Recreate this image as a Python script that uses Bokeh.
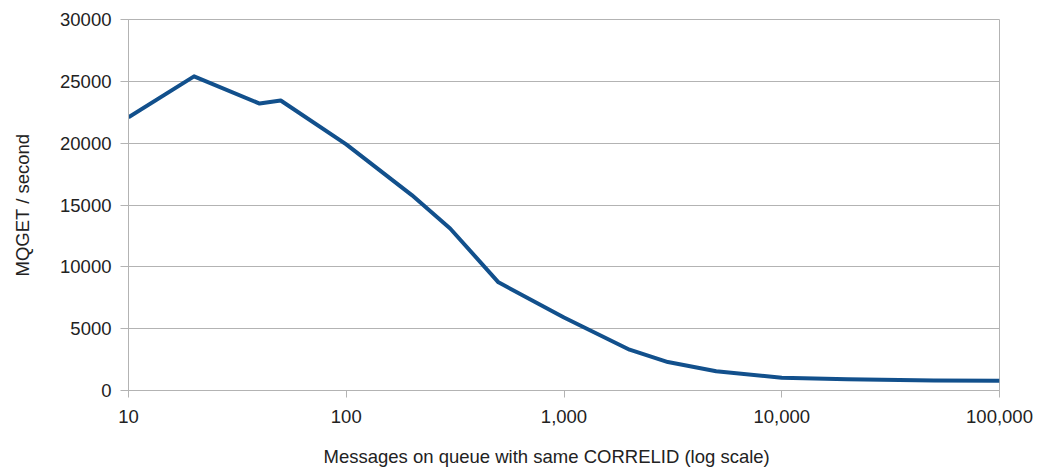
from bokeh.plotting import figure
from bokeh.models import Range1d, FixedTicker, NumeralTickFormatter, Title
from bokeh.embed import file_html
from bokeh.resources import INLINE

# Data
messages = [10, 20, 40, 50, 100, 200, 300, 500, 1000, 2000, 3000, 5000, 10000, 20000, 50000, 100000]
mqget_per_sec = [22100, 25400, 23200, 23450, 19900, 15800, 13100, 8750, 5900, 3300, 2300, 1550, 1030, 900, 800, 780]

x_ticks = [10, 100, 1000, 10000, 100000]
y_ticks = [0, 5000, 10000, 15000, 20000, 25000, 30000]

x_title = "Messages on queue with same CORRELID (log scale)"
y_title = "MQGET / second"

FONT = "Liberation Sans"
TEXT = "#222222"
GRID = "#b3b3b3"

p = figure(width=1040, height=469, x_axis_type="log",
           x_range=Range1d(10, 100000), y_range=Range1d(0, 30000),
           output_backend="svg", toolbar_location=None,
           min_border_left=128, min_border_right=41,
           min_border_top=19, min_border_bottom=79)

p.line(messages, mqget_per_sec, line_color="#12508c", line_width=4, line_join="round")

p.outline_line_color = GRID
p.outline_line_width = 1
p.background_fill_color = "white"
p.border_fill_color = "white"

p.xgrid.visible = False
p.ygrid.grid_line_color = GRID
p.ygrid.grid_line_width = 1

for ax in (p.xaxis[0], p.yaxis[0]):
    ax.axis_line_color = GRID
    ax.major_tick_line_color = GRID
    ax.minor_tick_line_color = None
    ax.major_tick_in = 0
    ax.major_label_text_font = FONT
    ax.major_label_text_font_size = "18.5px"
    ax.major_label_text_color = TEXT
    ax.axis_label_text_font = FONT
    ax.axis_label_text_font_size = "18.5px"
    ax.axis_label_text_font_style = "normal"
    ax.axis_label_text_color = TEXT

p.xaxis[0].ticker = FixedTicker(ticks=x_ticks)
p.xaxis[0].formatter = NumeralTickFormatter(format="0,0")
p.xaxis[0].major_tick_out = 7
p.xaxis[0].major_label_standoff = 12
# blank spacer label to push the x title down
p.xaxis[0].axis_label = " "
p.xaxis[0].axis_label_standoff = 0
p.xaxis[0].axis_label_text_font_size = "13px"

# x-axis title sits slightly left of the plot centre in the reference
p.add_layout(Title(text=x_title, align="left", offset=195, standoff=0,
                   text_font=FONT, text_font_size="18.5px",
                   text_font_style="normal", text_color=TEXT), "below")

p.yaxis[0].ticker = FixedTicker(ticks=y_ticks)
p.yaxis[0].formatter = NumeralTickFormatter(format="0")
p.yaxis[0].major_tick_out = 8
p.yaxis[0].major_label_standoff = 9
p.yaxis[0].axis_label = y_title
p.yaxis[0].axis_label_standoff = 24

open("out.html", "w").write(file_html(p, INLINE))
